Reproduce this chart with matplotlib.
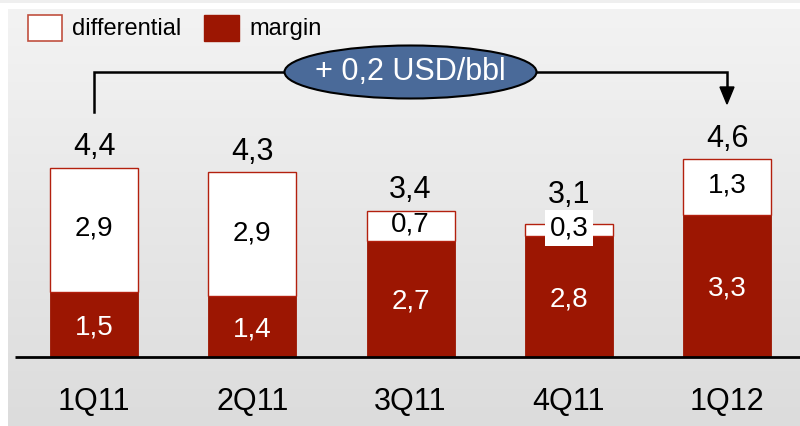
import numpy as np
import matplotlib
matplotlib.use("Agg")
import matplotlib.pyplot as plt
from matplotlib.patches import Ellipse, Rectangle
from matplotlib import font_manager

categories = ["1Q11", "2Q11", "3Q11", "4Q11", "1Q12"]
margin = [1.5, 1.4, 2.7, 2.8, 3.3]
differential = [2.9, 2.9, 0.7, 0.3, 1.3]
totals = [4.4, 4.3, 3.4, 3.1, 4.6]
series_names = ["differential", "margin"]
callout_text = "+ 0,2 USD/bbl"

names = {f.name for f in font_manager.fontManager.ttflist}
NARROW = ["Liberation Sans Narrow", "Liberation Sans", "DejaVu Sans"] if "Liberation Sans Narrow" in names else ["Liberation Sans", "DejaVu Sans"]
REG = ["Liberation Sans", "DejaVu Sans"]

RED = "#9c1602"
EDGE = "#b3200e"
BLUE = "#4a6a99"

W, H = 800, 427
fig = plt.figure(figsize=(W / 100, H / 100), dpi=100)

# background
bg = fig.add_axes([0, 0, 1, 1], zorder=-5)
bg.axis("off")
bg.add_patch(Rectangle((0, 0), W, 3.5, color="#efefef", lw=0))
grad = np.linspace(0, 1, 256)[:, None]
cmap = matplotlib.colors.LinearSegmentedColormap.from_list("g", ["#f3f3f3", "#dcdcdc"])
bg.imshow(grad, extent=(8, W, H, 10), cmap=cmap, aspect="auto", interpolation="bicubic")
bg.set_xlim(0, W)
bg.set_ylim(H, 0)

ax = fig.add_axes([0, 0, 1, 1])
ax.set_facecolor("none")
ax.axis("off")
ppu_y = 42.9
ppu_x = 158.25
base_px = 357.5
ax.set_ylim(-(H - base_px) / ppu_y, base_px / ppu_y)
ax.set_xlim(-94 / ppu_x, (W - 94) / ppu_x)

x = np.arange(len(categories))
bw = 88 / ppu_x
ax.bar(x, margin, bw, color=RED, edgecolor=RED, lw=0.6, zorder=2)
ax.bar(x, differential, bw, bottom=margin, color="white", edgecolor=EDGE, lw=1.0, zorder=2)
ax.plot([-0.5, 5], [0, 0], color="black", lw=2, zorder=3, solid_capstyle="butt")

for i in range(len(categories)):
    ax.text(x[i], margin[i] / 2 - 0.05, f"{margin[i]:.1f}".replace(".", ","), ha="center", va="center",
            color="white", fontsize=20, family=NARROW, zorder=4)
    small = differential[i] < 0.5
    ax.text(x[i], margin[i] + differential[i] / 2 + 0.05, f"{differential[i]:.1f}".replace(".", ","),
            ha="center", va="center", color="black", fontsize=20, family=NARROW, zorder=4,
            bbox=dict(fc="white", ec="none", pad=3.5) if small else None)
    off = 0.68 if small else 0.5
    ax.text(x[i], totals[i] + off, f"{totals[i]:.1f}".replace(".", ","), ha="center", va="center",
            color="black", fontsize=22, family=NARROW, zorder=4)
    ax.text(x[i], -1.04, categories[i], ha="center", va="center", color="black",
            fontsize=22, family=NARROW, zorder=4)

# bracket with callout
yb = (base_px - 73) / ppu_y
y_left_bot = (base_px - 113) / ppu_y
y_tip = (base_px - 105) / ppu_y
ax.plot([0, 0, 2], [y_left_bot, yb, yb], color="black", lw=1.8, zorder=3, solid_joinstyle="miter")
ax.plot([2, 4, 4], [yb, yb, y_tip + 17 / ppu_y], color="black", lw=1.8, zorder=3, solid_joinstyle="miter")
ax.add_patch(matplotlib.patches.Polygon(
    [[4 - 7 / ppu_x, y_tip + 17 / ppu_y], [4 + 7 / ppu_x, y_tip + 17 / ppu_y], [4, y_tip]],
    closed=True, color="black", zorder=3))
ax.add_patch(Ellipse((2, yb), 252 / ppu_x, 53 / ppu_y, fc=BLUE, ec="black", lw=1.5, zorder=4))
ax.text(2, yb + 0.02, callout_text, ha="center", va="center", color="white", fontsize=22,
        family=NARROW, zorder=5)

# legend
bg.add_patch(Rectangle((28, 15.5), 34, 26, fc="white", ec="#c0503f", lw=1.2, zorder=2))
bg.text(72, 29, series_names[0], ha="left", va="center", fontsize=17, family=REG, zorder=2)
bg.add_patch(Rectangle((204, 15.5), 35, 26, fc=RED, ec=RED, lw=1, zorder=2))
bg.text(249, 29, series_names[1], ha="left", va="center", fontsize=17, family=REG, zorder=2)

fig.savefig("out.png", dpi=100)
